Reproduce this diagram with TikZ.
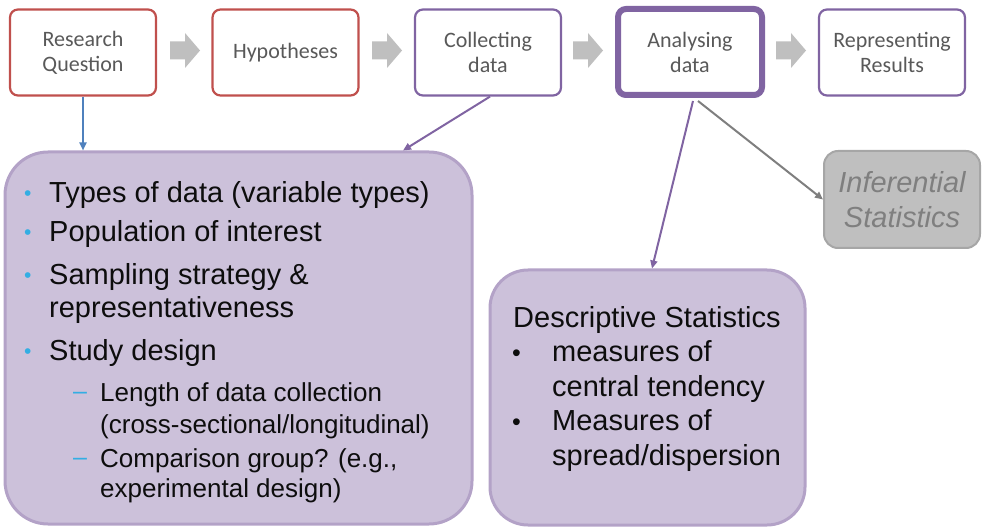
\documentclass[tikz,border=0pt]{standalone}
\usepackage{fontspec}
\setmainfont{Liberation Sans}
\newfontfamily\carlito{Carlito}
\usetikzlibrary{arrows.meta}

\definecolor{accred}{HTML}{C0504D}
\definecolor{accpurple}{HTML}{8064A2}
\definecolor{accblue}{HTML}{4F81BD}
\definecolor{lavfill}{HTML}{CCC1DA}
\definecolor{lavline}{HTML}{B3A2C7}
\definecolor{labelgray}{HTML}{595959}
\definecolor{stepgray}{HTML}{BFBFBF}
\definecolor{bullcyan}{HTML}{33AEE3}
\definecolor{infline}{HTML}{A6A6A6}
\definecolor{inftext}{HTML}{7F7F7F}
\definecolor{linkgray}{HTML}{7F7F7F}

\begin{document}
\begin{tikzpicture}[x=1pt,y=-1pt,
  stepbox/.style={draw, line width=2.2pt, rounded corners=8pt, fill=white,
    minimum width=146pt, minimum height=86pt, align=center, inner sep=0pt,
    text=labelgray, font=\carlito\fontsize{22}{25}\selectfont},
  topicbox/.style={draw=lavline, line width=3pt, fill=lavfill, inner sep=0pt},
  line/.style={anchor=base west, inner sep=0pt, text=black!95,
    font=\fontsize{29}{33}\selectfont},
  subline/.style={anchor=base west, inner sep=0pt, text=black!95,
    font=\fontsize{26}{30}\selectfont},
  cbullet/.style={anchor=base west, inner sep=0pt, text=bullcyan,
    font=\fontsize{21}{21}\selectfont},
  cdash/.style={anchor=base west, inner sep=0pt, text=bullcyan,
    font=\fontsize{25}{25}\selectfont},
  kbullet/.style={anchor=base west, inner sep=0pt, text=black!95,
    font=\fontsize{25}{25}\selectfont},
  link/.style={line width=2pt, -{Triangle[length=8pt,width=7pt]}},
]
\useasboundingbox (0,0) rectangle (982,529);

% process steps
\node[stepbox, draw=accred]    (rq) at (83,52.5)  {Research\\Question};
\node[stepbox, draw=accred]    (hy) at (285.5,52.5) {Hypotheses};
\node[stepbox, draw=accpurple] (cd) at (488,52.5) {Collecting\\data};
\node[stepbox, draw=accpurple, line width=6pt, minimum width=144pt,
      minimum height=86pt]     (ad) at (690,52)  {Analysing\\data};
\node[stepbox, draw=accpurple] (rr) at (892,52.5) {Representing\\Results};

% block arrows between the steps
\foreach \x in {170,372,573,776}
  \fill[stepgray] (\x,41.5) -- (\x+15,41.5) -- (\x+15,33) -- (\x+30,50.5)
    -- (\x+15,68) -- (\x+15,59.5) -- (\x,59.5) -- cycle;

% design considerations
\node[topicbox, rounded corners=43pt, minimum width=467pt, minimum height=372pt]
  (lbox) at (238.5,338) {};
\node[cbullet] (lb1) at (24,200.5) {•};
\node[line]    (lt1) at (49,202.5) {Types of data (variable types)};
\node[cbullet] (lb2) at (24,239.5) {•};
\node[line]    (lt2) at (49,241.5) {Population of interest};
\node[cbullet] (lb3) at (24,282.5) {•};
\node[line]    (lt3) at (49,284.5) {Sampling strategy \&};
\node[line]    (lt4) at (49,317)   {representativeness};
\node[cbullet] (lb4) at (24,358.7) {•};
\node[line]    (lt5) at (49,360.7) {Study design};
\node[cdash]   (ld1) at (73,399.5) {–};
\node[subline] (ls1) at (100,401.5) {Length of data collection};
\node[subline] (ls2) at (100,433)   {(cross-sectional/longitudinal)};
\node[cdash]   (ld2) at (73,465)   {–};
\node[subline] (ls3) at (100,467)   {Comparison group? (e.g.,};
\node[subline] (ls4) at (100,497.5) {experimental design)};

% descriptive statistics
\node[topicbox, rounded corners=38pt, minimum width=315pt, minimum height=255pt]
  (ds) at (647.5,397.5) {};
\node[line]    (dh)  at (513,327)   {Descriptive Statistics};
\node[kbullet] (db1) at (512,361.5) {•};
\node[line]    (dt1) at (552,361.5) {measures of};
\node[line]    (dt2) at (552,396)   {central tendency};
\node[kbullet] (db2) at (512,430.5) {•};
\node[line]    (dt3) at (552,430.5) {Measures of};
\node[line]    (dt4) at (552,465)   {spread/dispersion};

% inferential statistics
\node[draw=infline, line width=2pt, fill=stepgray, rounded corners=14pt,
      minimum width=156pt, minimum height=97pt, align=center, inner sep=0pt,
      text=inftext, font=\itshape\fontsize{29}{35}\selectfont]
  (inf) at (902,199.5) {Inferential\\Statistics};

% connectors
\draw[link, accblue] (rq.south) -- (rq.south |- lbox.north);
\draw[link, accpurple] ([xshift=2pt]cd.south) -- ([xshift=164.5pt]lbox.north);
\draw[link, accpurple] ([xshift=3pt,yshift=-3pt]ad.south) -- ([xshift=4.5pt]ds.north);
\draw[link, linkgray] ([xshift=8pt,yshift=-3pt]ad.south) -- (inf.west);
\end{tikzpicture}
\end{document}
